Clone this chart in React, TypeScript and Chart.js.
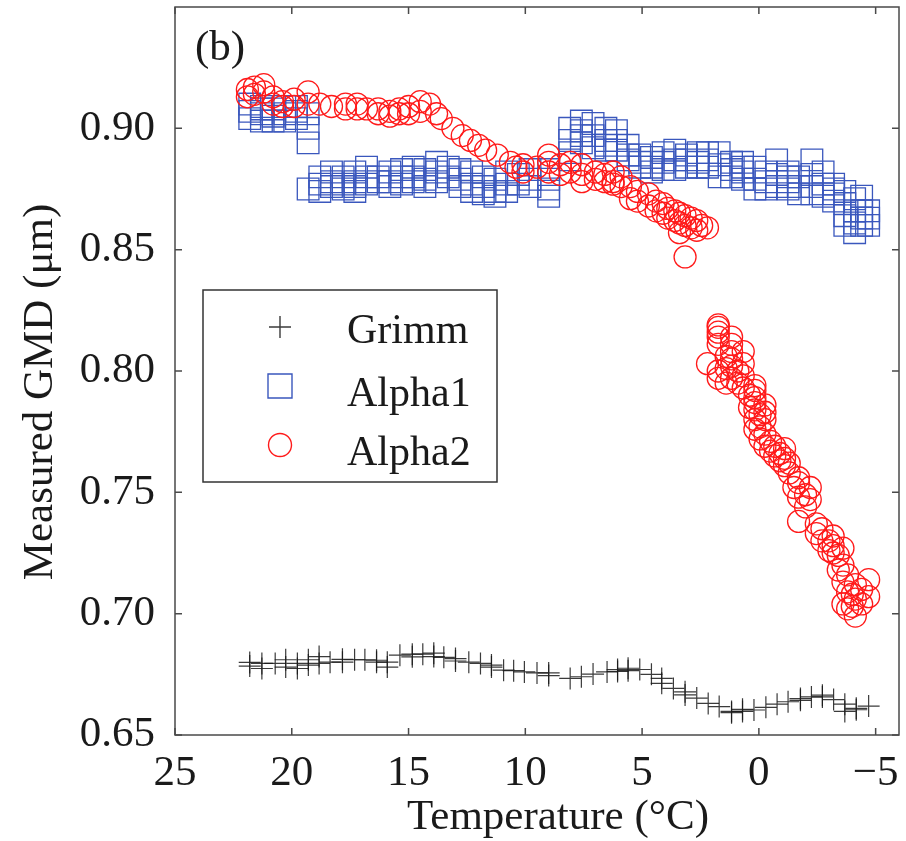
import React, { useEffect, useRef } from 'react';
import { Chart, registerables } from 'chart.js';

Chart.register(...registerables);

// ---- Data -----------------------------------------------------------------
const X_TICKS = [25, 20, 15, 10, 5, 0, -5];
const Y_TICKS = [0.65, 0.7, 0.75, 0.8, 0.85, 0.9];
const SERIES_NAMES = ['Grimm', 'Alpha1', 'Alpha2'];
const X_TITLE = 'Temperature (°C)';
const Y_TITLE = 'Measured GMD (μm)';
const PANEL_LABEL = '(b)';

const grimmT = [
  21.8, 21.8, 21.28, 21.28, 20.71, 20.26, 20.26, 19.76, 19.76, 19.29, 19.29,
  18.83, 18.83, 18.36, 17.83, 17.31, 16.87, 16.37, 15.91, 15.91, 15.37, 14.84,
  14.39, 13.92, 13.92, 13.49, 12.99, 12.99, 12.42, 11.92, 11.45, 11.45, 10.93,
  10.5, 10.04, 9.5, 9.0, 8.08, 7.6, 7.1, 6.5, 6.05, 5.6, 5.1, 4.6, 4.16, 4.16,
  3.66, 3.16, 2.66, 2.17, 1.7, 1.17, 0.7, 0.21, -0.3, -0.78, -1.25, -1.78,
  -2.25, -2.72, -3.2, -3.68, -3.68, -4.17, -4.7,
  17.83, 16.37, 14.84, 9.0, 6.05, 5.6, 3.16, 1.17, 0.7, -1.78, -2.72, -4.17,
];
const grimmGMD = [
  0.6799, 0.6784, 0.6795, 0.6774, 0.6795, 0.681, 0.678, 0.6795, 0.6774, 0.681,
  0.6788, 0.6823, 0.6795, 0.68, 0.68, 0.681, 0.681, 0.68, 0.68, 0.678, 0.6829,
  0.6833, 0.6833, 0.6837, 0.6823, 0.682, 0.6815, 0.6805, 0.68, 0.6795, 0.6788,
  0.678, 0.6767, 0.6765, 0.676, 0.6756, 0.6756, 0.6733, 0.674, 0.6751, 0.676,
  0.677, 0.6775, 0.677, 0.675, 0.6733, 0.6713, 0.6692, 0.6678, 0.6652, 0.663,
  0.6617, 0.6597, 0.6597, 0.6603, 0.6614, 0.6627, 0.6637, 0.665, 0.6657,
  0.6657, 0.6646, 0.6627, 0.6597, 0.661, 0.6619,
  0.6812, 0.6808, 0.6822, 0.6745, 0.6762, 0.6765, 0.6665, 0.6592, 0.6606,
  0.6643, 0.6664, 0.6604,
];

const alpha1T = [
  21.8, 21.8, 21.8, 21.3, 21.3, 21.3, 20.8, 20.8, 20.8, 20.3, 20.3, 20.3, 19.8,
  19.8, 19.3, 19.3, 19.3, 19.3, 18.8, 18.8, 18.3, 18.3, 18.3, 17.8, 17.8, 17.8,
  17.3, 17.3, 17.3, 16.8, 16.8, 16.8, 16.3, 16.3, 15.8, 15.8, 15.3, 15.3, 15.3,
  14.8, 14.8, 14.8, 14.3, 14.3, 13.8, 13.8, 13.8, 13.3, 13.3, 12.8, 12.8, 12.8,
  12.3, 12.3, 11.8, 11.8, 11.8, 11.3, 11.3, 10.8, 10.8, 10.8, 10.3, 10.3, 9.8,
  9.8, 9.0, 9.0, 9.0, 9.0, 8.1, 8.1, 8.1, 8.1, 7.6, 7.6, 7.6, 7.1, 7.1, 7.1,
  6.55, 6.55, 6.55, 6.1, 6.1, 6.1, 5.6, 5.6, 5.6, 5.1, 5.1, 4.6, 4.6, 4.6, 4.1,
  4.1, 4.1, 3.6, 3.6, 3.6, 3.1, 3.1, 2.6, 2.6, 2.2, 2.2, 2.2, 1.7, 1.7, 1.7,
  1.17, 1.17, 1.17, 0.7, 0.7, 0.7, 0.17, 0.17, 0.17, -0.3, -0.3, -0.3, -0.76,
  -0.76, -0.76, -1.25, -1.25, -1.25, -1.7, -1.7, -1.7, -2.27, -2.27, -2.27,
  -2.27, -2.75, -2.75, -2.75, -3.2, -3.2, -3.2, -3.68, -3.68, -3.68, -3.68,
  -4.1, -4.1, -4.1, -4.1, -4.4, -4.4, -4.4, -4.7, -4.7, -4.7,
  21.3, 19.8, 18.8, 17.3, 15.8, 14.3, 12.3, 11.3, 9.8, 7.6, 6.55, 5.1, 3.1,
  2.6, 0.7, -1.25, -3.2, -4.4,
];
const alpha1GMD = [
  0.91, 0.907, 0.904, 0.909, 0.906, 0.903, 0.908, 0.905, 0.903, 0.909, 0.906,
  0.903, 0.907, 0.904, 0.906, 0.9, 0.894, 0.875, 0.877, 0.88, 0.882, 0.878,
  0.876, 0.88, 0.877, 0.875, 0.882, 0.878, 0.876, 0.884, 0.88, 0.877, 0.88,
  0.878, 0.882, 0.878, 0.883, 0.88, 0.877, 0.884, 0.88, 0.878, 0.883, 0.879,
  0.886, 0.882, 0.878, 0.884, 0.88, 0.883, 0.879, 0.876, 0.882, 0.877, 0.88,
  0.876, 0.873, 0.879, 0.874, 0.882, 0.877, 0.874, 0.881, 0.877, 0.883, 0.879,
  0.883, 0.879, 0.875, 0.872, 0.9, 0.895, 0.89, 0.887, 0.903, 0.899, 0.894,
  0.902, 0.897, 0.892, 0.9, 0.895, 0.891, 0.899, 0.895, 0.891, 0.893, 0.889,
  0.887, 0.889, 0.886, 0.888, 0.884, 0.882, 0.89, 0.886, 0.883, 0.891, 0.887,
  0.883, 0.889, 0.884, 0.89, 0.886, 0.89, 0.887, 0.884, 0.89, 0.885, 0.88,
  0.886, 0.883, 0.88, 0.886, 0.882, 0.879, 0.884, 0.879, 0.875, 0.882, 0.878,
  0.875, 0.887, 0.881, 0.876, 0.882, 0.878, 0.875, 0.88, 0.876, 0.873, 0.887,
  0.881, 0.876, 0.873, 0.882, 0.877, 0.872, 0.877, 0.873, 0.87, 0.874, 0.869,
  0.864, 0.86, 0.871, 0.866, 0.861, 0.857, 0.872, 0.866, 0.86, 0.866, 0.863,
  0.86,
  0.908, 0.909, 0.874, 0.874, 0.876, 0.876, 0.874, 0.872, 0.876, 0.897, 0.893,
  0.884, 0.887, 0.884, 0.884, 0.88, 0.875, 0.863,
];

const alpha2T = [
  21.9, 21.9, 21.6, 21.6, 21.2, 21.2, 20.8, 20.8, 20.4, 20.4, 19.9, 19.9, 19.3,
  19.3, 18.8, 18.3, 17.7, 17.7, 17.2, 17.2, 16.8, 16.3, 16.3, 15.8, 15.8, 15.4,
  15.4, 15.0, 15.0, 14.5, 14.5, 14.1, 13.6, 13.1, 12.35, 11.7, 11.2, 10.64,
  10.1, 10.1, 9.0, 9.0, 9.0, 8.08, 8.08, 7.58, 7.58, 7.58, 6.6, 6.6, 6.24,
  6.24, 6.24, 5.9, 5.9, 5.5, 5.5, 4.73, 4.73, 4.1, 4.1, 3.6, 3.6, 3.16, 3.16,
  3.16, 2.66, 2.66, 2.2, 2.2, 1.74, 1.74, 1.74, 1.74, 1.74, 1.17, 1.17, 1.17,
  1.17, 0.67, 0.67, 0.67, 0.17, 0.17, 0.17, 0.17, 0.17, -0.26, -0.26, -0.26,
  -0.26, -0.68, -0.68, -1.1, -1.1, -1.1, -1.7, -1.7, -1.7, -1.7, -2.2, -2.2,
  -2.46, -2.46, -3.18, -3.18, -3.18, -3.6, -3.6, -3.6, -3.6, -4.13, -4.13,
  -4.13, -4.7, -4.7,
  13.8, 12.7, 12.0, 10.4, 9.5, 8.5, 8.5, 7.0, 7.0, 5.2, 5.2, 4.4, 4.4, 3.9,
  3.9, 3.4, 3.4, 3.4, 2.9, 2.9, 2.45,
  1.74, 1.74, 1.4, 1.4, 1.4, 1.17, 1.17, 0.9, 0.9, 0.67, 0.4, 0.4, 0.17, 0.17,
  -0.05, -0.05, -0.05, -0.26, -0.5, -0.5, -0.9, -0.9, -1.3, -1.3, -1.5, -2.0,
  -2.0, -2.7, -2.7, -3.0, -3.0, -3.4, -3.4, -3.8, -3.8, -3.8, -4.0, -4.0, -4.4,
  -4.4,
];
const alpha2GMD = [
  0.916, 0.913, 0.917, 0.914, 0.918, 0.915, 0.913, 0.91, 0.911, 0.909, 0.912,
  0.909, 0.915, 0.91, 0.91, 0.909, 0.91, 0.908, 0.91, 0.908, 0.908, 0.906,
  0.908, 0.907, 0.905, 0.908, 0.906, 0.909, 0.906, 0.911, 0.907, 0.91, 0.904,
  0.9, 0.895, 0.891, 0.889, 0.886, 0.885, 0.882, 0.889, 0.886, 0.882, 0.886,
  0.882, 0.885, 0.881, 0.878, 0.881, 0.878, 0.882, 0.878, 0.877, 0.88, 0.876,
  0.876, 0.871, 0.873, 0.868, 0.869, 0.865, 0.866, 0.862, 0.864, 0.86, 0.847,
  0.862, 0.858, 0.859, 0.803, 0.819, 0.816, 0.814, 0.8, 0.797, 0.814, 0.808,
  0.802, 0.797, 0.803, 0.798, 0.793, 0.794, 0.789, 0.784, 0.78, 0.776, 0.786,
  0.78, 0.774, 0.769, 0.769, 0.765, 0.768, 0.764, 0.761, 0.756, 0.754, 0.748,
  0.738, 0.752, 0.747, 0.737, 0.733, 0.732, 0.728, 0.725, 0.727, 0.72, 0.713,
  0.704, 0.712, 0.706, 0.699, 0.714, 0.707,
  0.906, 0.897, 0.893, 0.884, 0.884, 0.885, 0.881, 0.882, 0.879, 0.874, 0.87,
  0.87, 0.866, 0.867, 0.863, 0.865, 0.861, 0.857, 0.863, 0.859, 0.86,
  0.818, 0.811, 0.806, 0.801, 0.795, 0.811, 0.805, 0.8, 0.795, 0.808, 0.79,
  0.785, 0.792, 0.787, 0.782, 0.777, 0.772, 0.783, 0.771, 0.767, 0.766, 0.763,
  0.762, 0.758, 0.752, 0.749, 0.744, 0.735, 0.73, 0.73, 0.726, 0.724, 0.718,
  0.716, 0.709, 0.702, 0.708, 0.703, 0.71, 0.704,
];

// ---- Styling ----------------------------------------------------------------
const FONT_FAMILY = '"Liberation Serif", "Times New Roman", serif';
const TEXT_COLOR = '#1a1a1a';
const AXIS_COLOR = '#4a4a4a';
const GRIMM_COLOR = 'rgba(25,25,25,0.85)';
const ALPHA1_COLOR = '#3a57bd';
const ALPHA2_COLOR = '#ff1a1a';

const toPoints = (xs: number[], ys: number[]) => xs.map((x, i) => ({ x, y: ys[i] }));

const drawMarker = (ctx: CanvasRenderingContext2D, style: string, x: number, y: number, size: number) => {
  ctx.beginPath();
  if (style === 'cross') {
    ctx.moveTo(x - size / 2, y);
    ctx.lineTo(x + size / 2, y);
    ctx.moveTo(x, y - size / 2);
    ctx.lineTo(x, y + size / 2);
  } else if (style === 'rect') {
    ctx.rect(x - size / 2, y - size / 2, size, size);
  } else {
    ctx.arc(x, y, size / 2, 0, Math.PI * 2);
  }
  ctx.stroke();
};

const framePlugin = {
  id: 'matlabFrame',
  afterDraw(chart: any) {
    const { ctx, chartArea } = chart;
    const { left, right, top, bottom } = chartArea;
    const xs = chart.scales.x;
    const ys = chart.scales.y;
    ctx.save();

    // Box
    ctx.strokeStyle = AXIS_COLOR;
    ctx.lineWidth = 1.5;
    ctx.strokeRect(left, top, right - left, bottom - top);

    // Inward ticks on all four sides
    const tl = 7;
    ctx.beginPath();
    X_TICKS.forEach((v) => {
      const px = xs.getPixelForValue(v);
      ctx.moveTo(px, bottom);
      ctx.lineTo(px, bottom - tl);
      ctx.moveTo(px, top);
      ctx.lineTo(px, top + tl);
    });
    Y_TICKS.forEach((v) => {
      const py = ys.getPixelForValue(v);
      ctx.moveTo(left, py);
      ctx.lineTo(left + tl, py);
      ctx.moveTo(right, py);
      ctx.lineTo(right - tl, py);
    });
    ctx.stroke();

    // Axis titles
    ctx.fillStyle = TEXT_COLOR;
    ctx.font = `43px ${FONT_FAMILY}`;
    ctx.textAlign = 'center';
    ctx.textBaseline = 'alphabetic';
    ctx.fillText(X_TITLE, 558, 829);

    ctx.save();
    ctx.translate(52, 392);
    ctx.rotate(-Math.PI / 2);
    ctx.fillText(Y_TITLE, 0, 0);
    ctx.restore();

    // Panel label
    ctx.textAlign = 'left';
    ctx.fillText(PANEL_LABEL, 195, 60);

    // Legend
    const lx = 203, ly = 290, lw = 294, lh = 192;
    ctx.fillStyle = '#ffffff';
    ctx.fillRect(lx, ly, lw, lh);
    ctx.strokeStyle = '#333333';
    ctx.lineWidth = 1.5;
    ctx.strokeRect(lx, ly, lw, lh);
    const markerY = [327, 386, 445];
    const textY = [343, 406, 465];
    const sizes = [22, 24, 23];
    chart.data.datasets.forEach((ds: any, i: number) => {
      ctx.strokeStyle = ds.borderColor;
      ctx.lineWidth = 1.4;
      drawMarker(ctx, ds.pointStyle, 280, markerY[i], sizes[i]);
      ctx.fillStyle = TEXT_COLOR;
      ctx.font = `42px ${FONT_FAMILY}`;
      ctx.textAlign = 'left';
      ctx.fillText(ds.label, 347, textY[i]);
    });

    ctx.restore();
  },
};

export default function App() {
  const canvasRef = useRef<HTMLCanvasElement | null>(null);

  useEffect(() => {
    if (!canvasRef.current) return;
    const chart = new Chart(canvasRef.current, {
      type: 'scatter',
      data: {
        datasets: [
          {
            label: SERIES_NAMES[0],
            data: toPoints(grimmT, grimmGMD),
            pointStyle: 'cross',
            pointRadius: 11,
            borderColor: GRIMM_COLOR,
            backgroundColor: 'transparent',
            pointBorderWidth: 1.2,
            order: 2,
          },
          {
            label: SERIES_NAMES[1],
            data: toPoints(alpha1T, alpha1GMD),
            pointStyle: 'rect',
            pointRadius: 15.3,
            borderColor: ALPHA1_COLOR,
            backgroundColor: 'transparent',
            pointBorderWidth: 1.3,
            order: 1,
          },
          {
            label: SERIES_NAMES[2],
            data: toPoints(alpha2T, alpha2GMD),
            pointStyle: 'circle',
            pointRadius: 11,
            borderColor: ALPHA2_COLOR,
            backgroundColor: 'transparent',
            pointBorderWidth: 1.3,
            order: 0,
          },
        ],
      } as any,
      options: {
        animation: false,
        responsive: true,
        maintainAspectRatio: false,
        events: [],
        layout: { autoPadding: false, padding: { top: 7, right: 7, left: 0, bottom: 0 } },
        plugins: {
          legend: { display: false },
          tooltip: { enabled: false },
        },
        scales: {
          x: {
            type: 'linear',
            reverse: true,
            min: -6,
            max: 25,
            afterBuildTicks: (s: any) => {
              s.ticks = X_TICKS.map((v) => ({ value: v }));
            },
            afterFit: (s: any) => {
              s.height = 106;
              s.paddingLeft = 0;
              s.paddingRight = 0;
            },
            ticks: {
              autoSkip: false,
              maxRotation: 0,
              padding: 13,
              color: TEXT_COLOR,
              font: { family: FONT_FAMILY, size: 43 },
              callback: (v: any) => (Number(v) < 0 ? '\u2212' + Math.abs(Number(v)) : String(v)),
            },
            grid: { display: false, drawTicks: false },
            border: { display: false },
          },
          y: {
            type: 'linear',
            min: 0.65,
            max: 0.95,
            afterBuildTicks: (s: any) => {
              s.ticks = Y_TICKS.map((v) => ({ value: v }));
            },
            afterFit: (s: any) => {
              s.width = 175;
              s.paddingTop = 0;
              s.paddingBottom = 0;
            },
            ticks: {
              autoSkip: false,
              padding: 20,
              color: TEXT_COLOR,
              font: { family: FONT_FAMILY, size: 43 },
              callback: (v: any) => Number(v).toFixed(2),
            },
            grid: { display: false, drawTicks: false },
            border: { display: false },
          },
        },
      } as any,
      plugins: [framePlugin],
    });
    return () => chart.destroy();
  }, []);

  return (
    <div style={{ position: 'absolute', left: 0, top: 0, width: 906, height: 841, background: '#ffffff' }}>
      <canvas ref={canvasRef} />
    </div>
  );
}
